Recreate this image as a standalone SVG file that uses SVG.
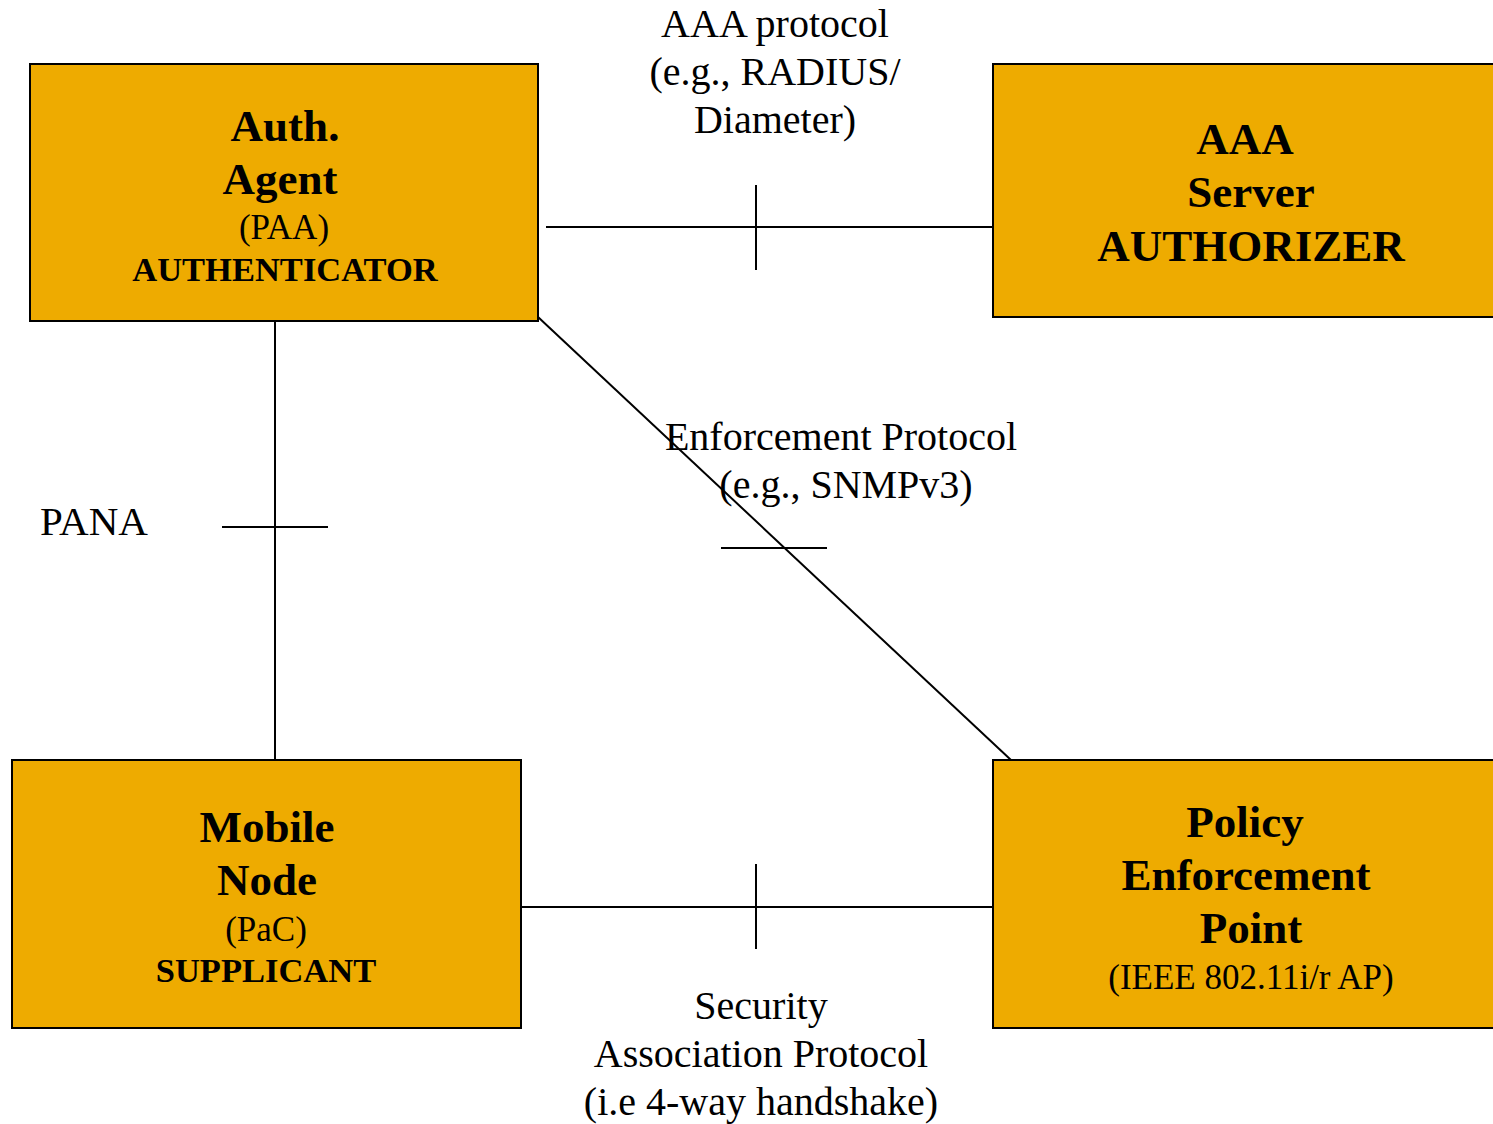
<svg xmlns="http://www.w3.org/2000/svg" width="1493" height="1124" viewBox="0 0 1493 1124">
  <style>
    .box { fill: #EEAB00; stroke: #000; stroke-width: 2; }
    .link { stroke: #000; stroke-width: 2; fill: none; }
    text { font-family: "Liberation Serif", "Times New Roman", serif; fill: #000; text-anchor: middle; }
    .big { font-size: 45px; font-weight: bold; }
    .sub { font-size: 35px; }
    .subb { font-size: 34.5px; font-weight: bold; }
    .lbl { font-size: 40px; }
  </style>
  <rect width="1493" height="1124" fill="#fff"/>

  <!-- connectors with crossing tick marks -->
  <g id="connectors">
    <line class="link" x1="546" y1="227" x2="993" y2="227"/>
    <line class="link" x1="756" y1="185" x2="756" y2="270"/>
    <line class="link" x1="275" y1="317" x2="275" y2="760"/>
    <line class="link" x1="222" y1="527" x2="328" y2="527"/>
    <line class="link" x1="538" y1="317" x2="1011" y2="760"/>
    <line class="link" x1="721" y1="548" x2="827" y2="548"/>
    <line class="link" x1="511" y1="907" x2="993" y2="907"/>
    <line class="link" x1="756" y1="864" x2="756" y2="949"/>
  </g>

  <g id="labels">
    <text class="lbl" x="775" y="37">AAA protocol</text>
    <text class="lbl" x="775" y="85">(e.g., RADIUS/</text>
    <text class="lbl" x="775" y="133">Diameter)</text>
    <text class="lbl" x="841" y="450">Enforcement Protocol</text>
    <text class="lbl" x="846" y="498">(e.g., SNMPv3)</text>
    <text class="lbl" x="40" y="535" style="text-anchor:start;font-size:41px">PANA</text>
    <text class="lbl" x="761" y="1019">Security</text>
    <text class="lbl" x="761" y="1067">Association Protocol</text>
    <text class="lbl" x="761" y="1115">(i.e 4-way handshake)</text>
  </g>

  <g id="auth-agent">
    <rect class="box" x="30" y="64" width="508" height="257"/>
    <text class="big" x="285" y="141">Auth.</text>
    <text class="big" x="280" y="194">Agent</text>
    <text class="sub" x="284" y="239">(PAA)</text>
    <text class="subb" x="285" y="281">AUTHENTICATOR</text>
  </g>

  <g id="aaa-server">
    <rect class="box" x="993" y="64" width="510" height="253"/>
    <text class="big" x="1245" y="154">AAA</text>
    <text class="big" x="1251" y="207">Server</text>
    <text class="big" x="1251" y="261">AUTHORIZER</text>
  </g>

  <g id="mobile-node">
    <rect class="box" x="12" y="760" width="509" height="268"/>
    <text class="big" x="267" y="842">Mobile</text>
    <text class="big" x="267" y="895">Node</text>
    <text class="sub" x="266" y="941">(PaC)</text>
    <text class="subb" x="266" y="982">SUPPLICANT</text>
  </g>

  <g id="policy-enforcement-point">
    <rect class="box" x="993" y="760" width="510" height="268"/>
    <text class="big" x="1245" y="837">Policy</text>
    <text class="big" x="1246" y="890">Enforcement</text>
    <text class="big" x="1251" y="943">Point</text>
    <text class="sub" x="1251" y="989">(IEEE 802.11i/r AP)</text>
  </g>
</svg>
